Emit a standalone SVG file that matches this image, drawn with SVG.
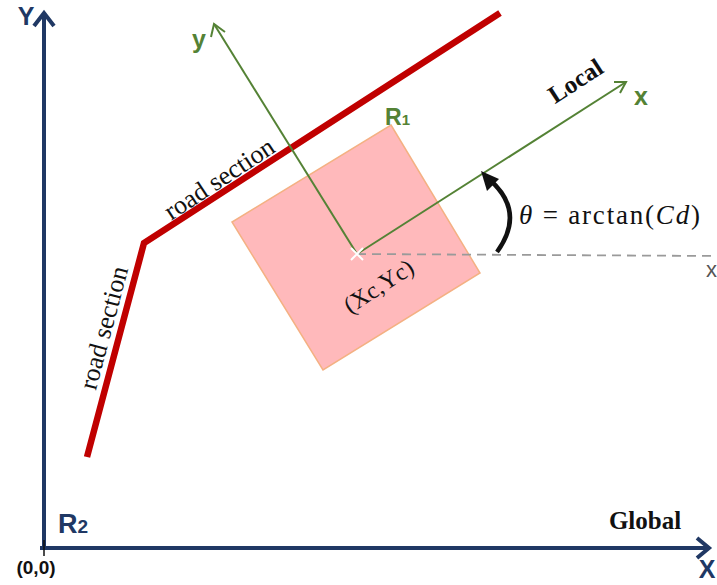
<svg xmlns="http://www.w3.org/2000/svg" width="717" height="585" viewBox="0 0 717 585">
<style>
.nav{fill:none;stroke:#203864;stroke-width:4}
.grn{fill:none;stroke:#548235;stroke-width:2}
.road{fill:none;stroke:#c00000;stroke-width:6.5;stroke-linejoin:miter}
.ser{font-family:"Liberation Serif",serif;fill:#111}
.serb{font-family:"Liberation Serif",serif;font-weight:bold;fill:#111}
.sb{font-family:"Liberation Sans",Arial,sans-serif;font-weight:bold}
</style>
<rect width="717" height="585" fill="#fff"/>
<g id="road">
<polyline class="road" points="87,457 144,243 500,13"/>
<text class="ser" font-size="26" transform="translate(224,186) rotate(-33.5)" text-anchor="middle">road section</text>
<text class="ser" font-size="26" transform="translate(112,330) rotate(-75)" text-anchor="middle">road section</text>
</g>
<g id="region-R1">
<polygon points="391,125 480,273 323,370 232,222" fill="#ffb9bb" stroke="#f4b183" stroke-width="1.5"/>
<text class="sb" x="385" y="125" font-size="23" fill="#548235">R<tspan font-size="15">1</tspan></text>
<text class="ser" font-size="24" transform="translate(383,293) rotate(-33)" text-anchor="middle">(Xc,Yc)</text>
</g>
<g id="connectors">
<g id="global-axes">
<line class="nav" x1="44" y1="550" x2="44" y2="14"/>
<polyline class="nav" points="34,26 44,13 54,26"/>
<line class="nav" x1="40" y1="548" x2="708" y2="548"/>
<polyline class="nav" points="697,538 709,548 697,558"/>
<line x1="44" y1="540" x2="44" y2="556" stroke="#111" stroke-width="1.5"/>
</g>
<g id="local-axes">
<line class="grn" x1="357" y1="254" x2="626" y2="82"/>
<polyline class="grn" points="614,82 626,82 620,93"/>
<line class="grn" x1="357" y1="254" x2="214" y2="24"/>
<polyline class="grn" points="211,37 214,24 225,32"/>
<line x1="357" y1="254" x2="717" y2="256" stroke="#9a9a9a" stroke-width="1.8" stroke-dasharray="9,6"/>
<path d="M351,248 L363,260 M351,260 L363,248" stroke="#fff" stroke-width="2"/>
</g>
<g id="angle-arrow">
<path d="M497,252 Q526,212 490,180" fill="none" stroke="#111" stroke-width="4.5"/>
<polygon points="481,171 499,179 487,191" fill="#111"/>
</g>
</g>
<g id="labels">
<text class="sb" x="26" y="25" font-size="25" fill="#203864" text-anchor="middle">Y</text>
<text class="sb" x="707" y="578" font-size="25" fill="#203864" text-anchor="middle">X</text>
<text class="sb" x="36" y="574" font-size="19" fill="#111" text-anchor="middle">(0,0)</text>
<text class="sb" x="58" y="533" font-size="27" fill="#203864">R<tspan font-size="19">2</tspan></text>
<text class="serb" font-size="25" x="645" y="529" text-anchor="middle">Global</text>
<text class="sb" x="199" y="48" font-size="25" fill="#548235" text-anchor="middle">y</text>
<text class="sb" x="641" y="105" font-size="25" fill="#548235" text-anchor="middle">x</text>
<text class="serb" font-size="25" transform="translate(580,88) rotate(-33)" text-anchor="middle">Local</text>
<text x="706" y="277" font-family="'Liberation Sans',sans-serif" font-size="22" fill="#555">x</text>
<text class="ser" font-size="27" x="519" y="224" textLength="181" lengthAdjust="spacing"><tspan font-style="italic">θ</tspan> = arctan(<tspan font-style="italic">Cd</tspan>)</text>
</g>
</svg>
